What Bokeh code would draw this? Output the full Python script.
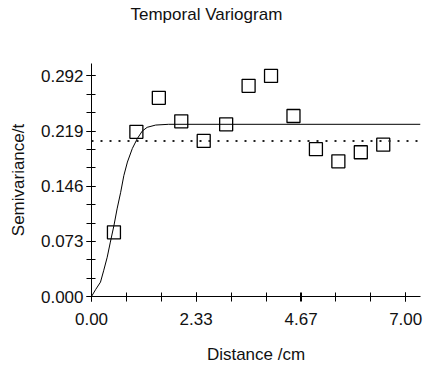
from bokeh.plotting import figure
from bokeh.models import FixedTicker, Span, Range1d, PrintfTickFormatter, Title
from bokeh.embed import file_html
from bokeh.resources import INLINE

# Experimental semivariogram (lag distance in cm, semivariance)
lag_cm = [0.5, 1.0, 1.5, 2.0, 2.5, 3.0, 3.5, 4.0, 4.5, 5.0, 5.5, 6.0, 6.5]
semivar = [0.085, 0.218, 0.263, 0.232, 0.206, 0.228, 0.279, 0.292, 0.239,
           0.195, 0.179, 0.191, 0.201]

# Fitted model curve
model_x = [0.0, 0.09, 0.2, 0.27, 0.35, 0.42, 0.5, 0.57, 0.65, 0.72, 0.8,
           0.91, 1.02, 1.13, 1.24, 1.43, 1.72, 7.33]
model_y = [0.0, 0.009, 0.019, 0.034, 0.052, 0.072, 0.094, 0.116, 0.138,
           0.160, 0.178, 0.196, 0.209, 0.219, 0.224, 0.227, 0.228, 0.228]

# Sample variance (dotted line)
sample_variance = 0.206

x_major = [0.0, 2.33, 4.67, 7.0]
x_minor = [0.0, 0.778, 1.556, 2.333, 3.111, 3.889, 4.667, 5.444, 6.222, 7.0]
y_major = [0.0, 0.073, 0.146, 0.219, 0.292]
y_minor = [0.0, 0.0243, 0.0487, 0.073, 0.0973, 0.1217, 0.146, 0.1703,
           0.1947, 0.219, 0.2433, 0.2677, 0.292]

FONT = "Liberation Sans"
FS = "17px"

p = figure(width=424, height=368, output_backend="svg", toolbar_location=None,
           x_range=Range1d(0, 7.33), y_range=Range1d(0, 0.3085),
           min_border_left=91, min_border_right=4, min_border_top=63,
           min_border_bottom=72)
p.grid.visible = False
p.outline_line_color = None
p.background_fill_color = "white"
p.border_fill_color = "white"

# spacer between the frame and the title
p.add_layout(Title(text=" ", text_font=FONT, text_font_size=FS, standoff=18),
             "above")

p.title.text = "Temporal Variogram"
p.title.text_font = FONT
p.title.text_font_size = FS
p.title.text_font_style = "normal"
p.title.text_color = "#111111"
p.title.align = "left"
p.title.offset = 39
p.title.standoff = 2

for ax in (p.xaxis[0], p.yaxis[0]):
    ax.axis_line_color = "black"
    ax.major_tick_line_color = "black"
    ax.minor_tick_line_color = "black"
    ax.major_tick_in = 4
    ax.major_tick_out = 5
    ax.minor_tick_in = 4
    ax.minor_tick_out = 5
    ax.major_label_text_font = FONT
    ax.major_label_text_font_size = FS
    ax.major_label_text_color = "#111111"
    ax.axis_label_text_font = FONT
    ax.axis_label_text_font_size = FS
    ax.axis_label_text_font_style = "normal"
    ax.axis_label_text_color = "#111111"

p.xaxis.ticker = FixedTicker(ticks=x_major, minor_ticks=x_minor)
p.xaxis.formatter = PrintfTickFormatter(format="%.2f")
p.yaxis.ticker = FixedTicker(ticks=y_major, minor_ticks=y_minor)
p.yaxis.formatter = PrintfTickFormatter(format="%.3f")
p.xaxis.axis_label = "Distance /cm"
p.yaxis.axis_label = "Semivariance/t"
p.xaxis.major_label_standoff = 11
p.yaxis.major_label_standoff = 3
p.xaxis.axis_label_standoff = 17
p.yaxis.axis_label_standoff = 10

p.add_layout(Span(location=sample_variance, dimension="width",
                  line_color="#222222", line_width=2, line_dash="2 7"))
p.line(model_x, model_y, line_color="black", line_width=1)
p.scatter(lag_cm, semivar, marker="square", size=13, fill_color=None,
          line_color="black", line_width=1.3)

open("out.html", "w").write(file_html(p, INLINE))
